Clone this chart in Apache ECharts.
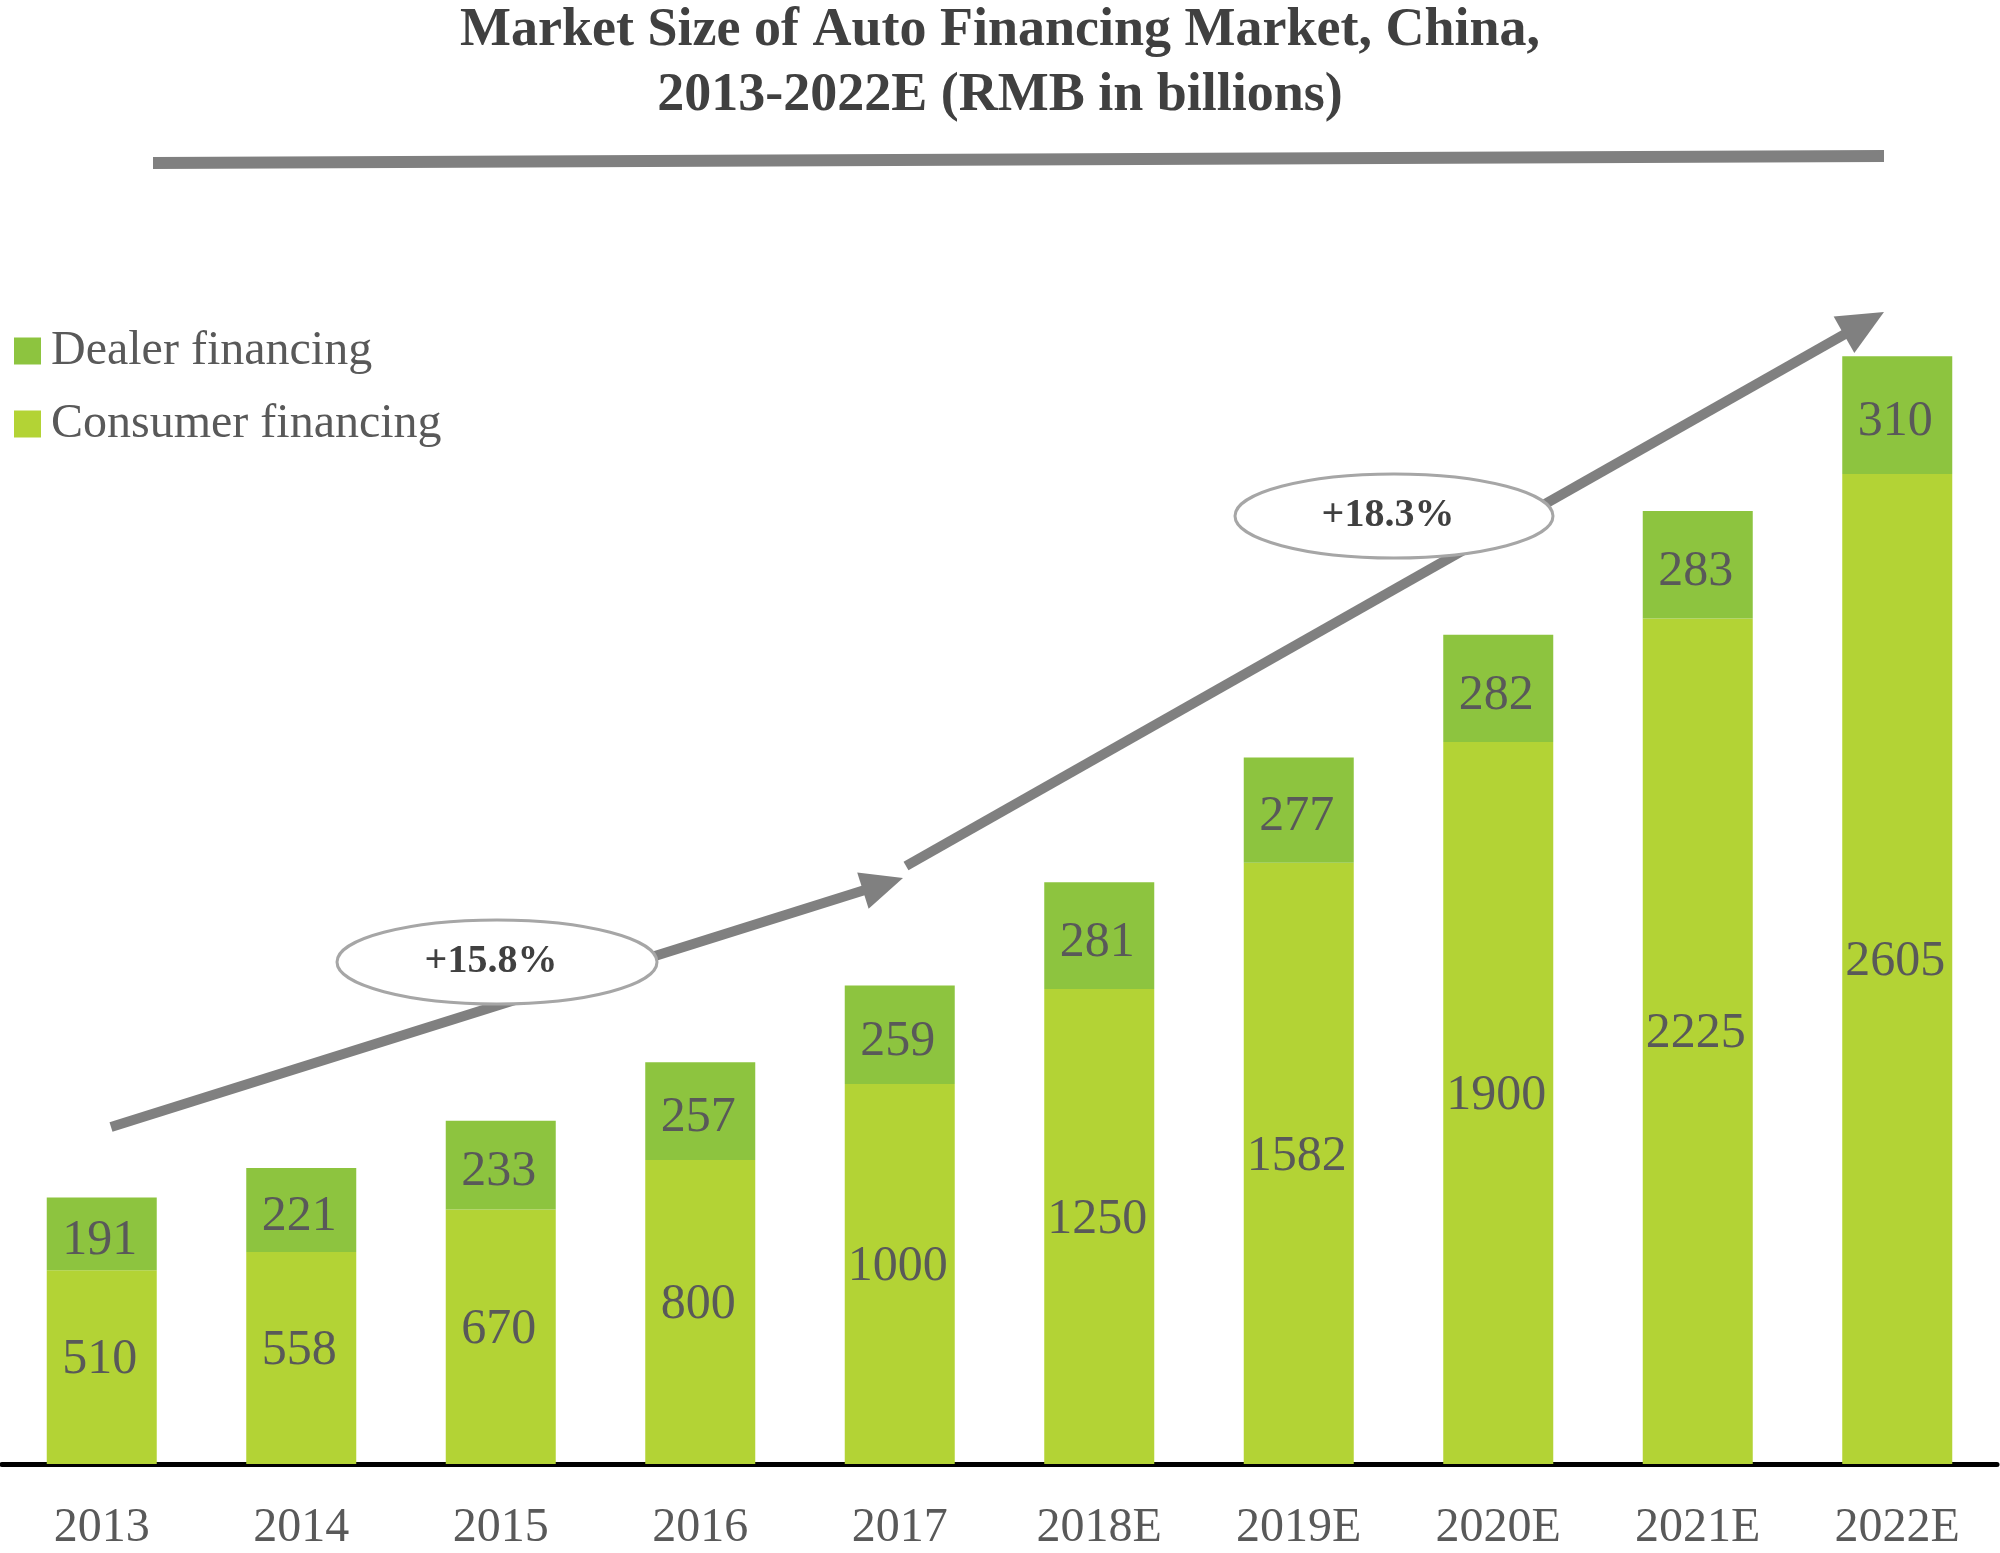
<!DOCTYPE html>
<html>
<head>
<meta charset="utf-8">
<script src="https://cdn.jsdelivr.net/npm/echarts@6/dist/echarts.min.js"></script>
<style>html,body{margin:0;padding:0;background:#fff}#c{width:2000px;height:1553px}</style>
</head>
<body>
<div id="c"></div>
<script>
const categories = ['2013','2014','2015','2016','2017','2018E','2019E','2020E','2021E','2022E'];
const consumerFinancing = [510,558,670,800,1000,1250,1582,1900,2225,2605];
const dealerFinancing = [191,221,233,257,259,281,277,282,283,310];
const cagrLabels = ['+15.8%','+18.3%'];

const FONT = 'Liberation Serif';
const TXT = '#595959';

function arrow(x1, y1, x2, y2, w, headLen, headW) {
  const dx = x2 - x1, dy = y2 - y1, L = Math.hypot(dx, dy);
  const ux = dx / L, uy = dy / L, px = -uy, py = ux;
  const bx = x2 - ux * headLen, by = y2 - uy * headLen;
  return [
    {type:'line', z:10, shape:{x1:x1, y1:y1, x2:bx + ux*2, y2:by + uy*2}, style:{stroke:'#808080', lineWidth:w}},
    {type:'polygon', z:10, shape:{points:[[x2,y2],[bx+px*headW/2, by+py*headW/2],[bx-px*headW/2, by-py*headW/2]]}, style:{fill:'#808080'}}
  ];
}
function bubble(cx, cy, rx, ry, txt) {
  return [
    {type:'ellipse', z:11, shape:{cx:cx, cy:cy, rx:rx, ry:ry}, style:{fill:'#fff', stroke:'#a6a6a6', lineWidth:3}},
    {type:'text', z:12, x:cx - 6, y:cy, style:{text:txt, font:'bold 40px "Liberation Serif"', fill:'#404040', textAlign:'center', textVerticalAlign:'middle'}}
  ];
}

const chart = echarts.init(document.getElementById('c'));
chart.setOption({
  backgroundColor:'#fff',
  animation:false,
  title:{
    text:'Market Size of Auto Financing Market, China,\n2013-2022E (RMB in billions)',
    left:'center', top:-6,
    textStyle:{fontFamily:FONT, fontWeight:'bold', fontSize:54, lineHeight:65, color:'#404040'}
  },
  legend:{
    orient:'vertical', left:9, top:322,
    itemWidth:27, itemHeight:27, itemGap:25, icon:'rect',
    data:['Dealer financing','Consumer financing'],
    textStyle:{fontFamily:FONT, fontSize:48, color:TXT, padding:[0,0,0,5]}
  },
  grid:{left:2, right:3, top:324, bottom:89},
  xAxis:{
    type:'category', data:categories,
    axisLine:{lineStyle:{color:'#000', width:5}},
    axisTick:{show:false},
    axisLabel:{fontFamily:FONT, fontSize:48, color:TXT, margin:40}
  },
  yAxis:{type:'value', min:0, max:3000, show:false, splitLine:{show:false}},
  series:[
    {name:'Consumer financing', type:'bar', stack:'a', barWidth:110, data:consumerFinancing,
     itemStyle:{color:'#B3D335'},
     label:{show:true, position:'inside', offset:[-2,-7], fontFamily:FONT, fontSize:50, color:TXT}},
    {name:'Dealer financing', type:'bar', stack:'a', barWidth:110, data:dealerFinancing,
     itemStyle:{color:'#8DC43F'},
     label:{show:true, position:'inside', offset:[-2,7], fontFamily:FONT, fontSize:50, color:TXT}}
  ],
  graphic:[
    {type:'line', shape:{x1:153, y1:163, x2:1884, y2:156}, style:{stroke:'#808080', lineWidth:12}},
    ...arrow(111, 1127, 903, 878, 10, 42, 38),
    ...arrow(906, 866, 1884, 312, 10, 46, 42),
    ...bubble(497, 962, 160, 42, cagrLabels[0]),
    ...bubble(1394, 516, 159, 42, cagrLabels[1])
  ]
});
</script>
</body>
</html>
